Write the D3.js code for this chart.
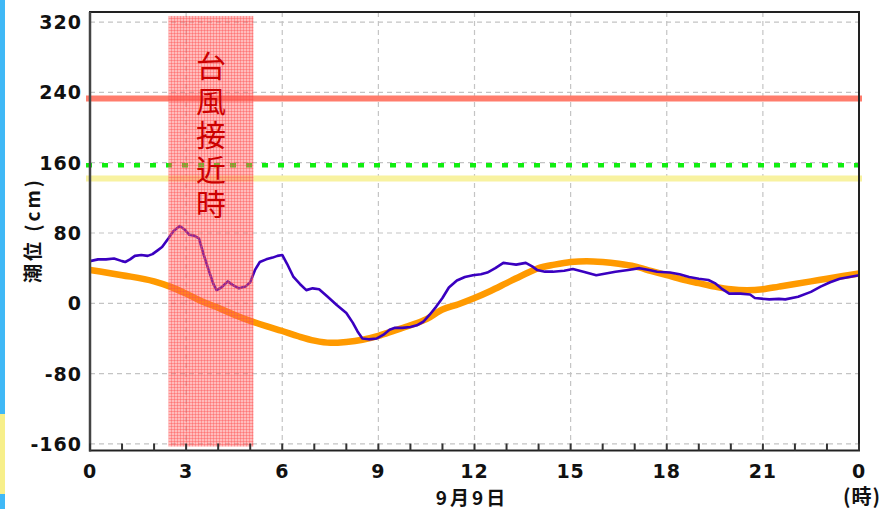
<!DOCTYPE html>
<html>
<head>
<meta charset="utf-8">
<script src="https://cdn.jsdelivr.net/npm/d3@7"></script>
<style>
  body { margin: 0; background: #fff; }
  svg { display: block; }
</style>
</head>
<body>
<svg class="entry-point" width="882" height="509"></svg>
<script>
/* data */
const hourTicks = [0, 3, 6, 9, 12, 15, 18, 21, 24]
const hourTickLabels = ['0', '3', '6', '9', '12', '15', '18', '21', '0']
const levelTicks = [-160, -80, 0, 80, 160, 240, 320]

// observed tide (blue)
const obsHours = [0, 0.25, 0.5, 0.75, 1.0, 1.1, 1.25, 1.4, 1.6, 1.8, 1.95, 2.1, 2.25, 2.45, 2.6, 2.8, 2.95, 3.1, 3.25, 3.4,
  3.55, 3.7, 3.85, 3.95, 4.1, 4.3, 4.45, 4.65, 4.85, 5.0, 5.15, 5.3, 5.5, 5.7, 5.85, 6.0, 6.15, 6.35, 6.55, 6.75,
  6.95, 7.15, 7.4, 7.7, 8.0, 8.2, 8.35, 8.5, 8.7, 8.95, 9.15, 9.35, 9.5, 9.75, 10.0, 10.2, 10.4, 10.6, 10.8, 11.0,
  11.2, 11.45, 11.7, 11.95, 12.2, 12.4, 12.65, 12.9, 13.1, 13.3, 13.6, 13.8, 13.95, 14.2, 14.45, 14.8, 15.07, 15.4, 15.8, 16.1,
  16.4, 16.8, 17.15, 17.45, 17.7, 18.1, 18.4, 18.7, 19.0, 19.3, 19.5, 19.7, 19.95, 20.3, 20.6, 20.75, 21.2, 21.5, 21.7, 22.1,
  22.5, 22.8, 23.1, 23.4, 23.7, 24]
const obsLevels = [48, 50, 50, 51, 48, 47, 50, 54, 55, 54, 56, 60, 64, 74, 82, 88, 84, 78, 77, 74,
  55, 38, 22, 15, 18, 25, 21, 17, 19, 24, 38, 47, 50, 52, 54, 55, 45, 30, 22, 15,
  17, 16, 8, -2, -11, -22, -32, -40, -41, -40, -36, -30, -28, -28, -27, -25, -21, -13, -4, 6,
  18, 26, 30, 32, 33, 35, 40, 46, 45, 44, 46, 42, 38, 36, 36, 37, 39, 36, 32, 34,
  36, 38, 40, 38, 36, 35, 33, 30, 28, 26.5, 23, 17, 11, 11, 10, 6, 4.5, 5, 4.5, 7.5,
  13, 19, 24, 28, 30, 32]

// astronomical tide (orange)
const astroHours = [0, 1, 2, 2.5, 3, 3.5, 4, 4.5, 5, 5.5, 6, 6.5, 7, 7.5, 8, 8.5, 9, 9.5, 10, 10.5, 11, 11.5, 12,
  12.5, 13, 13.5, 14, 14.5, 15, 15.5, 16, 16.5, 17, 17.5, 18, 18.5, 19, 19.5, 20, 20.5, 21, 21.5, 22, 22.5, 23, 23.5, 24]
const astroLevels = [38, 32, 25, 19, 11, 2, -5, -13, -20, -26, -31.5, -37.5, -42.5, -45, -44, -41.5, -37, -31, -25, -18, -7, -1, 6,
  14, 23, 32, 40, 44, 47, 48, 47, 45, 42, 37, 32, 27, 23, 19, 16, 15, 16, 19, 22, 25, 28, 31, 34]

// reference levels
const refNames = ['warning', 'caution', 'high']
const refLevels = [233, 157, 142]

// typhoon approach window
const typhoonHours = [2.45, 5.1]
const typhoonLevels = [-163, 327]
const typhoonText = '台風接近時'

/* draw */
const svg = d3.select('.entry-point')
const padL = 90, padR = 859, padT = 12, padB = 450.5

const x = d3.scaleLinear().domain([0, 24]).range([padL, padR])
const y = d3.scaleLinear().domain([-167.5, 331.5]).range([padB, padT])

// bit of the page behind the chart on the left
svg.append('rect').attr('x', 0).attr('y', 0).attr('width', 5).attr('height', 509).attr('fill', '#3fb8f6')
svg.append('rect').attr('x', 0).attr('y', 414).attr('width', 5).attr('height', 80).attr('fill', '#f7ef8a')

const defs = svg.append('defs')
const pat = defs.append('pattern').attr('id', 'hatch')
  .attr('width', 3).attr('height', 3).attr('patternUnits', 'userSpaceOnUse')
pat.append('rect').attr('width', 3).attr('height', 3).attr('fill', 'rgba(255,95,95,0.42)')
pat.append('path').attr('d', 'M0,0.5H3M0.5,0V3').attr('stroke', 'rgba(255,70,70,0.35)').attr('stroke-width', 1)

// grid
svg.append('g').selectAll('line')
  .data(levelTicks).enter().append('line')
  .attr('x1', padL).attr('x2', padR)
  .attr('y1', d => y(d)).attr('y2', d => y(d))
  .attr('stroke', '#c4c4c4').attr('stroke-width', 1.2).attr('stroke-dasharray', '5,4')
svg.append('g').selectAll('line')
  .data(hourTicks.slice(1, -1)).enter().append('line')
  .attr('x1', d => x(d)).attr('x2', d => x(d))
  .attr('y1', padT).attr('y2', padB)
  .attr('stroke', '#c4c4c4').attr('stroke-width', 1.2).attr('stroke-dasharray', '5,4')

// reference lines
const refStyle = {
  warning: { color: '#ff7c6c', width: 6, dash: null },
  caution: { color: '#11ee11', width: 4.5, dash: '6,10' },
  high: { color: '#f8f2a0', width: 6, dash: null }
}
svg.append('g').selectAll('line')
  .data(refNames).enter().append('line')
  .attr('x1', padL - 4).attr('x2', padR + 3)
  .attr('y1', (d, i) => y(refLevels[i])).attr('y2', (d, i) => y(refLevels[i]))
  .attr('stroke', d => refStyle[d].color)
  .attr('stroke-width', d => refStyle[d].width)
  .attr('stroke-dasharray', d => refStyle[d].dash)

// tide lines
const astro = astroHours.map((h, i) => [h, astroLevels[i]])
const obs = obsHours.map((h, i) => [h, obsLevels[i]])
const line = d3.line().x(d => x(d[0])).y(d => y(d[1]))
const smooth = d3.line().x(d => x(d[0])).y(d => y(d[1])).curve(d3.curveMonotoneX)

svg.append('path').datum(astro).attr('d', smooth)
  .attr('fill', 'none').attr('stroke', '#ff9a00').attr('stroke-width', 6.5)
svg.append('path').datum(obs).attr('d', line)
  .attr('fill', 'none').attr('stroke', '#3a00c0').attr('stroke-width', 2.6)
  .attr('stroke-linejoin', 'round')

// typhoon shade on top
svg.append('rect')
  .attr('x', x(typhoonHours[0])).attr('width', x(typhoonHours[1]) - x(typhoonHours[0]))
  .attr('y', y(typhoonLevels[1])).attr('height', y(typhoonLevels[0]) - y(typhoonLevels[1]))
  .attr('fill', 'url(#hatch)')

svg.append('text')
  .attr('x', (x(typhoonHours[0]) + x(typhoonHours[1])) / 2)
  .attr('y', 51)
  .attr('writing-mode', 'vertical-rl')
  .attr('font-family', '"Noto Sans CJK JP", sans-serif')
  .attr('font-size', '30px').attr('letter-spacing', '4.4px')
  .attr('fill', '#cc0000')
  .text(typhoonText)

// frame
svg.append('rect').attr('x', padL).attr('y', padT).attr('width', padR - padL).attr('height', padB - padT)
  .attr('fill', 'none').attr('stroke', '#222').attr('stroke-width', 2)
svg.append('line').attr('x1', padL).attr('x2', padL).attr('y1', padT).attr('y2', padB + 1)
  .attr('stroke', '#444').attr('stroke-width', 2.5)

// hourly ticks pointing inward
svg.append('g').selectAll('line')
  .data(d3.range(0, 25)).enter().append('line')
  .attr('x1', d => x(d)).attr('x2', d => x(d))
  .attr('y1', padB).attr('y2', padB - 7)
  .attr('stroke', '#333').attr('stroke-width', 2)

// tick labels
svg.append('g').selectAll('text')
  .data(levelTicks).enter().append('text')
  .attr('x', 82).attr('y', d => y(d))
  .attr('text-anchor', 'end').attr('dominant-baseline', 'central')
  .attr('font-family', '"DejaVu Sans", sans-serif').attr('font-weight', 'bold')
  .attr('font-size', '19px').attr('letter-spacing', '1px')
  .attr('fill', '#111')
  .text(d => d < 0 ? '-' + Math.abs(d) : d)

svg.append('g').selectAll('text')
  .data(hourTicks).enter().append('text')
  .attr('x', d => x(d)).attr('y', 471)
  .attr('text-anchor', 'middle').attr('dominant-baseline', 'central')
  .attr('font-family', '"DejaVu Sans", sans-serif').attr('font-weight', 'bold')
  .attr('font-size', '19px').attr('letter-spacing', '1px')
  .attr('fill', '#111')
  .text((d, i) => hourTickLabels[i])

svg.append('text')
  .attr('x', 472).attr('y', 496)
  .attr('text-anchor', 'middle').attr('dominant-baseline', 'central')
  .attr('font-family', '"Noto Sans CJK JP", sans-serif').attr('font-weight', 'bold')
  .attr('font-size', '19px').attr('letter-spacing', '3px')
  .attr('fill', '#111')
  .text('9月9日')

svg.append('text')
  .attr('x', 881).attr('y', 495)
  .attr('text-anchor', 'end').attr('dominant-baseline', 'central')
  .attr('font-family', '"Noto Sans CJK JP", sans-serif').attr('font-weight', 'bold')
  .attr('font-size', '20px').attr('letter-spacing', '1px')
  .attr('fill', '#111')
  .text('(時)')

svg.append('text')
  .attr('transform', 'translate(31,230) rotate(-90)')
  .attr('text-anchor', 'middle').attr('dominant-baseline', 'central')
  .attr('font-family', '"Noto Sans CJK JP", sans-serif').attr('font-weight', 'bold')
  .attr('font-size', '19px').attr('letter-spacing', '3px')
  .attr('fill', '#111')
  .text('潮位 (cm)')
</script>
</body>
</html>
